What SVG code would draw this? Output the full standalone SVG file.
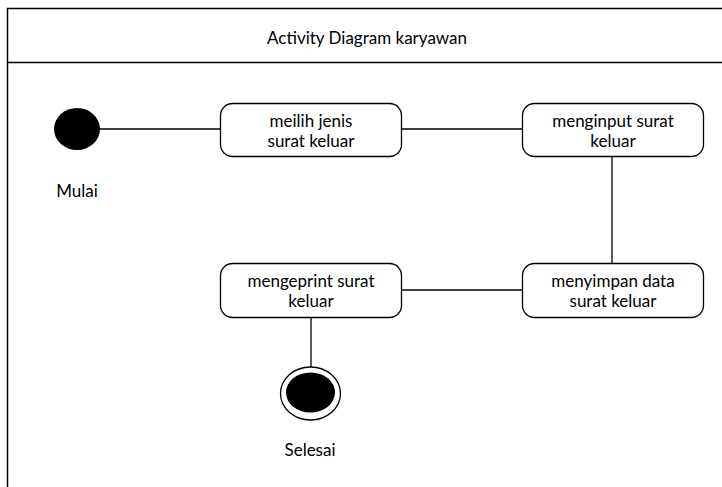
<svg xmlns="http://www.w3.org/2000/svg" width="722" height="487" viewBox="0 0 722 487">
<style>
.frame{fill:none;stroke:#000;stroke-width:1.5}
.act{fill:#fff;stroke:#000;stroke-width:1.3}
.edge{stroke:#000;stroke-width:1.3;fill:none}
text{font-family:Lato,"Open Sans","Liberation Sans",sans-serif;font-size:17px;fill:#000;text-anchor:middle}
</style>
<rect width="722" height="487" fill="#fff"/>
<g id="frame">
<path class="frame" d="M7.5 490 V8.5 H730"/>
<line class="frame" x1="7.5" y1="62.5" x2="730" y2="62.5"/>
<text x="367" y="44">Activity Diagram karyawan</text>
</g>
<g id="connectors">
<line class="edge" x1="99" y1="129" x2="220" y2="129"/>
<line class="edge" x1="401" y1="129" x2="522" y2="129"/>
<line class="edge" x1="612" y1="156" x2="612" y2="263"/>
<line class="edge" x1="402" y1="290" x2="522" y2="290"/>
<line class="edge" x1="311" y1="318" x2="311" y2="367"/>
</g>
<g id="start">
<ellipse cx="77" cy="129" rx="23" ry="21" fill="#000"/>
<text x="77" y="197">Mulai</text>
</g>
<g id="act1">
<rect class="act" x="220.5" y="103.5" width="181" height="53" rx="12"/>
<text x="311" y="126.5">meilih jenis</text>
<text x="311" y="147">surat keluar</text>
</g>
<g id="act2">
<rect class="act" x="522.5" y="103.5" width="181" height="53" rx="12"/>
<text x="613" y="126.5">menginput surat</text>
<text x="613" y="147">keluar</text>
</g>
<g id="act3">
<rect class="act" x="522.5" y="263.5" width="181" height="54" rx="12"/>
<text x="613" y="286.5">menyimpan data</text>
<text x="613" y="307">surat keluar</text>
</g>
<g id="act4">
<rect class="act" x="220.5" y="263.5" width="181" height="54" rx="12"/>
<text x="311" y="286.5">mengeprint surat</text>
<text x="311" y="307">keluar</text>
</g>
<g id="end">
<ellipse cx="310.5" cy="393.5" rx="30" ry="26.5" fill="#fff" stroke="#000" stroke-width="1.3"/>
<ellipse cx="310.5" cy="392.5" rx="24.5" ry="20" fill="#000"/>
<text x="310" y="456">Selesai</text>
</g>
</svg>
